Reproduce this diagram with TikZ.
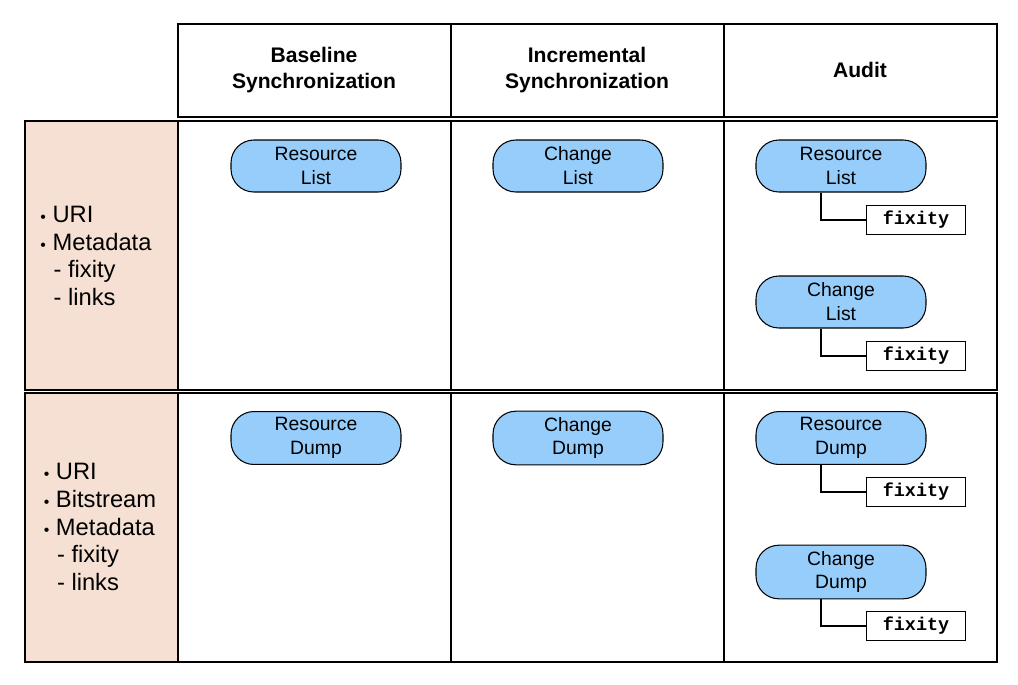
\documentclass[tikz,border=0pt]{standalone}
\usepackage{fontspec}
\setmainfont{Liberation Sans}
\setmonofont{Liberation Mono}
\usetikzlibrary{positioning}
\definecolor{pillblue}{RGB}{150,205,250}
\definecolor{peach}{RGB}{245,224,211}
\newcommand{\puce}{{\fontsize{9}{9}\selectfont\textbullet}\ }
\tikzset{
  cell/.style={draw, thick},
  pill/.style={draw, semithick, fill=pillblue, rounded corners=13pt, minimum width=3.4cm, minimum height=1.04cm, align=center, font=\fontsize{11}{13.6}\selectfont},
  fixbox/.style={draw, semithick, fill=white, minimum width=1.98cm, minimum height=0.52cm, font=\ttfamily\bfseries\fontsize{10.5}{12}\selectfont},
  head/.style={align=center, font=\bfseries\fontsize{12}{14.7}\selectfont},
  side/.style={align=left, font=\fontsize{13.5}{15.8}\selectfont}
}
\begin{document}
\begin{tikzpicture}[x=0.02cm, y=-0.02cm]
  \useasboundingbox (0,0) rectangle (1018,684);

  % En-tete
  \draw[cell] (178,24) rectangle (997,117);
  \draw[cell] (451,24) -- (451,117) (724,24) -- (724,117);
  \node[head] (hbase) at (314,70) {Baseline\\Synchronization};
  \node[head] (hincr) at (587,70) {Incremental\\Synchronization};
  \node[head] (haudit) at (860,70) {Audit};

  % Lignes
  \foreach \top/\bot in {121/390, 393/662} {
    \draw[cell, fill=peach] (25,\top) rectangle (178,\bot);
    \draw[cell] (178,\top) rectangle (997,\bot);
    \draw[cell] (451,\top) -- (451,\bot) (724,\top) -- (724,\bot);
  }
  \node[side] (sideun) at (96,256) {\puce URI\\\puce Metadata\\\ \ - fixity\\\ \ - links};
  \node[side] (sidedeux) at (100,527) {\puce URI\\\puce Bitstream\\\puce Metadata\\\ \ - fixity\\\ \ - links};

  % Listes et dumps
  \node[pill] (rlbase) at (316,166) {Resource\\List};
  \node[pill] (clincr) at (578,166) {Change\\List};
  \node[pill] (rdbase) at (316,438) {Resource\\Dump};
  \node[pill] (cdincr) at (578,438) {Change\\Dump};

  % Audit
  \foreach \nom/\texte/\y in {rl/Resource\\List/166, cl/Change\\List/302, rd/Resource\\Dump/438, cd/Change\\Dump/572} {
    \node[pill] (\nom audit) at (841,\y) {\texte};
    \node[fixbox] (\nom fix) at (916,\y+54) {fixity};
    \draw[thick] (\nom audit.south -| 821,0) |- (\nom fix.west);
  }
\end{tikzpicture}
\end{document}
